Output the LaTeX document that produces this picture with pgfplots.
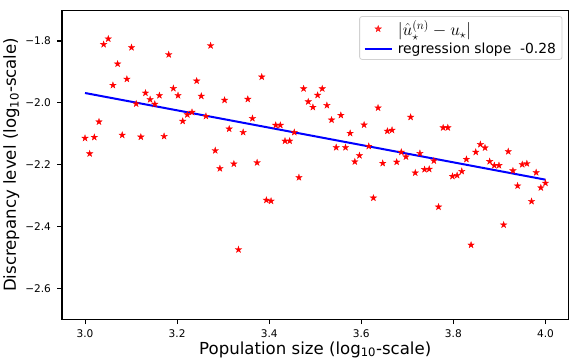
\documentclass[border=0pt]{standalone}
\usepackage{fontspec}
\setmainfont{DejaVu Sans}
\usepackage{pgfplots}
\pgfplotsset{compat=1.18}
\usepackage{pgfplotstable}

\pgfdeclareplotmark{fstar}{%
 \pgfpathmoveto{\pgfpointpolar{90}{\pgfplotmarksize}}%
 \pgfpathlineto{\pgfpointpolar{126}{0.382\pgfplotmarksize}}%
 \pgfpathlineto{\pgfpointpolar{162}{\pgfplotmarksize}}%
 \pgfpathlineto{\pgfpointpolar{198}{0.382\pgfplotmarksize}}%
 \pgfpathlineto{\pgfpointpolar{234}{\pgfplotmarksize}}%
 \pgfpathlineto{\pgfpointpolar{270}{0.382\pgfplotmarksize}}%
 \pgfpathlineto{\pgfpointpolar{306}{\pgfplotmarksize}}%
 \pgfpathlineto{\pgfpointpolar{342}{0.382\pgfplotmarksize}}%
 \pgfpathlineto{\pgfpointpolar{18}{\pgfplotmarksize}}%
 \pgfpathlineto{\pgfpointpolar{54}{0.382\pgfplotmarksize}}%
 \pgfpathclose
 \pgfusepathqfillstroke}

\pgfplotstableread{
x y
3.0000 -2.114
3.0101 -2.164
3.0202 -2.111
3.0303 -2.061
3.0404 -1.811
3.0505 -1.793
3.0606 -1.943
3.0707 -1.874
3.0808 -2.104
3.0909 -1.923
3.1010 -1.821
3.1111 -2.003
3.1212 -2.110
3.1313 -1.968
3.1414 -1.989
3.1515 -2.004
3.1616 -1.976
3.1717 -2.108
3.1818 -1.844
3.1919 -1.953
3.2020 -1.976
3.2121 -2.059
3.2222 -2.038
3.2323 -2.030
3.2424 -1.929
3.2525 -1.978
3.2626 -2.043
3.2727 -1.815
3.2828 -2.154
3.2929 -2.212
3.3030 -1.991
3.3131 -2.084
3.3232 -2.197
3.3333 -2.474
3.3434 -2.095
3.3535 -1.988
3.3636 -2.050
3.3737 -2.193
3.3838 -1.916
3.3939 -2.314
3.4040 -2.317
3.4141 -2.072
3.4242 -2.072
3.4343 -2.123
3.4444 -2.123
3.4545 -2.095
3.4646 -2.241
3.4747 -1.954
3.4848 -1.996
3.4949 -2.014
3.5051 -1.975
3.5152 -1.954
3.5253 -2.008
3.5354 -2.055
3.5455 -2.144
3.5556 -2.040
3.5657 -2.144
3.5758 -2.098
3.5859 -2.190
3.5960 -2.170
3.6061 -2.071
3.6162 -2.140
3.6263 -2.307
3.6364 -2.016
3.6465 -2.195
3.6566 -2.091
3.6667 -2.088
3.6768 -2.191
3.6869 -2.159
3.6970 -2.174
3.7071 -2.046
3.7172 -2.226
3.7273 -2.163
3.7374 -2.215
3.7475 -2.214
3.7576 -2.187
3.7677 -2.336
3.7778 -2.080
3.7879 -2.080
3.7980 -2.237
3.8081 -2.234
3.8182 -2.221
3.8283 -2.182
3.8384 -2.459
3.8485 -2.159
3.8586 -2.134
3.8687 -2.145
3.8788 -2.189
3.8889 -2.202
3.8990 -2.202
3.9091 -2.394
3.9192 -2.157
3.9293 -2.219
3.9394 -2.268
3.9495 -2.199
3.9596 -2.196
3.9697 -2.318
3.9798 -2.225
3.9899 -2.274
4.0000 -2.259
}\discdata

\pgfplotstableread{
x y
3.0 -1.968
4.0 -2.248
}\regdata

\begin{document}
\begin{tikzpicture}
\begin{axis}[
  scale only axis,
  width=504pt, height=308pt,
  xmin=2.95, xmax=4.05,
  ymin=-2.7, ymax=-1.7,
  xtick={3.0,3.2,3.4,3.6,3.8,4.0},
  xticklabels={3.0,3.2,3.4,3.6,3.8,4.0},
  ytick={-2.6,-2.4,-2.2,-2.0,-1.8},
  yticklabels={−2.6,−2.4,−2.2,−2.0,−1.8},
  tick align=outside,
  tick pos=left,
  major tick length=4.5pt,
  every tick/.style={black, line width=1pt},
  axis line style={black, line width=1pt},
  ticklabel style={font=\fontsize{10.5}{12}\selectfont},
  yticklabel style={xshift=-3pt},
  xticklabel style={yshift=-2pt},
  label style={font=\fontsize{16.5}{18}\selectfont},
  xlabel={Population size (log\textsubscript{10}-scale)},
  ylabel={Discrepancy level (log\textsubscript{10}-scale)},
  xlabel style={yshift=3pt},
  ylabel style={yshift=-1pt},
  legend style={at={(rel axis cs:1,1)}, anchor=north east,
    xshift=-6pt, yshift=-6pt,
    font=\fontsize{13.8}{16}\selectfont, draw=black!18, line width=0.8pt,
    rounded corners=2.5pt,
    fill=white, fill opacity=0.8, text opacity=1, draw opacity=1,
    inner xsep=4pt, inner ysep=2pt,
    row sep=2pt,
    /tikz/every odd column/.append style={column sep=3pt}},
  legend cell align=left,
  legend image code/.code={%
    \draw[mark repeat=2,mark phase=2,#1] plot coordinates {(0pt,0pt) (13.5pt,0pt) (27pt,0pt)};},
]
\addplot[only marks, mark=fstar, mark size=3.4pt, draw=red, fill=red, line width=0.3pt] table {\discdata};
\addlegendentry{\fontsize{18}{18}\selectfont$|\hat{u}_{\star}^{(n)} - u_{\star}|$}
\addplot[blue, line width=2pt, no marks] table {\regdata};
\addlegendentry{regression slope\ \ -0.28}
\end{axis}
\path ([yshift=10pt]current axis.north west) rectangle ([yshift=9pt]current axis.north west);
\end{tikzpicture}
\end{document}
